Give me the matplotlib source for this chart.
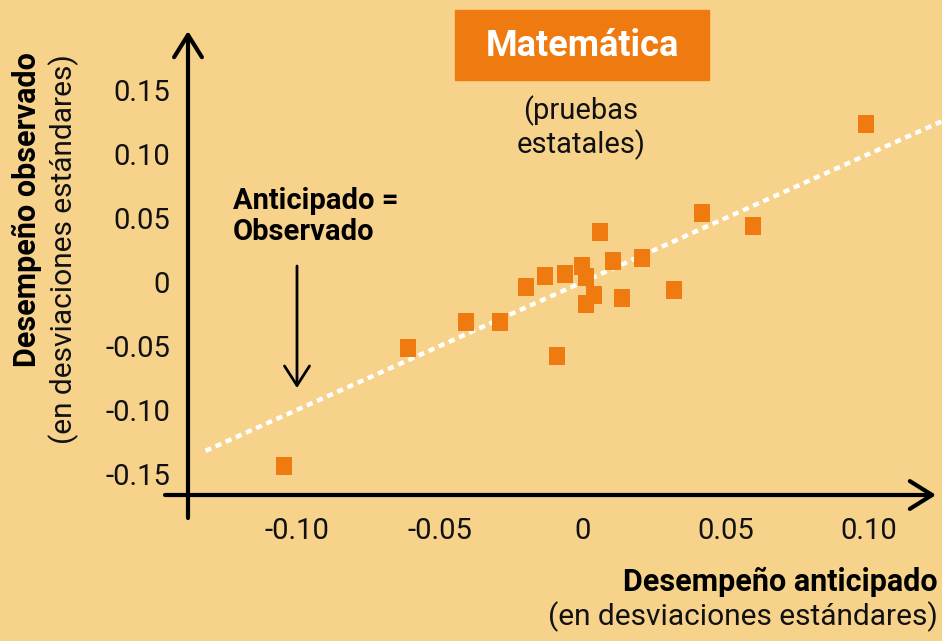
import matplotlib.pyplot as plt
from matplotlib.patches import Rectangle

# Data (standard deviations)
anticipado = [-0.1045, -0.0612, -0.0409, -0.0290, -0.0199, -0.0133, -0.0091,
              -0.0063, -0.0003, 0.0010, 0.0010, 0.0038, 0.0059, 0.0105,
              0.0136, 0.0206, 0.0318, 0.0416, 0.0594, 0.0990]
observado = [-0.1438, -0.0516, -0.0313, -0.0313, -0.0039, 0.0047, -0.0578,
             0.0063, 0.0125, 0.0039, -0.0172, -0.0102, 0.0391, 0.0164,
             -0.0125, 0.0188, -0.0063, 0.0539, 0.0438, 0.1234]

# anticipado = observado reference line
ref_x = [-0.132, 0.13]
ref_y = [-0.132, 0.13]

x_ticks = [-0.10, -0.05, 0, 0.05, 0.10]
x_tick_labels = ['-0.10', '-0.05', '0', '0.05', '0.10']
y_ticks = [0.15, 0.10, 0.05, 0, -0.05, -0.10, -0.15]
y_tick_labels = ['0.15', '0.10', '0.05', '0', '-0.05', '-0.10', '-0.15']

BG = '#F7D28B'
ORANGE = '#EE7A10'
W, H = 942, 641

plt.rcParams['font.family'] = ['Roboto', 'DejaVu Sans']

fig = plt.figure(figsize=(W / 100, H / 100), dpi=100, facecolor=BG)


def fx(x):
    return x / W


def fy(y):
    return 1 - y / H


# axes origin sits at pixel (188, 495)
ax = fig.add_axes([fx(188), fy(495), fx(W - 188), 495 / H])
ax.set_facecolor('none')
ax.set_xlim(-0.1381, 0.1255)
ax.set_ylim(-0.1665, 0.2202)
for s in ax.spines.values():
    s.set_visible(False)

ax.plot(ref_x, ref_y, color='white', lw=3.2, linestyle=(0, (1.4, 1.1)),
        clip_on=False, zorder=2)

rect_marker = [(-0.43, -0.5), (0.43, -0.5), (0.43, 0.5), (-0.43, 0.5), (-0.43, -0.5)]
ax.plot(anticipado, observado, linestyle='none', marker=rect_marker,
        markersize=12.6, color=ORANGE, markeredgewidth=0, zorder=3)

ax.set_xticks(x_ticks)
ax.set_xticklabels(x_tick_labels)
ax.set_yticks(y_ticks)
ax.set_yticklabels(y_tick_labels)
ax.tick_params(axis='both', length=0, labelsize=21, colors='#111111')
ax.tick_params(axis='x', pad=16)
ax.tick_params(axis='y', pad=13)

# hand-drawn style axes with open arrow heads
arrow = dict(arrowstyle='->,head_length=0.8,head_width=0.5', lw=3,
             color='black', shrinkA=0, shrinkB=0, mutation_scale=20)
ax.annotate('', xy=(188, H - 31), xytext=(188, H - 518),
            xycoords='figure pixels', textcoords='figure pixels', arrowprops=arrow)
ax.annotate('', xy=(936, H - 495), xytext=(165, H - 495),
            xycoords='figure pixels', textcoords='figure pixels', arrowprops=arrow)

# annotation arrow
ax.annotate('', xy=(297, H - 388), xytext=(297, H - 266),
            xycoords='figure pixels', textcoords='figure pixels',
            arrowprops=dict(arrowstyle='->,head_length=0.7,head_width=0.45', lw=2,
                            color='black', shrinkA=0, shrinkB=0, mutation_scale=20))
fig.text(fx(233), fy(187), 'Anticipado =\nObservado', fontsize=21,
         fontweight='bold', ha='left', va='top', linespacing=1.15)

# title box
fig.patches.append(Rectangle((fx(455), fy(80)), fx(254), 70 / H,
                             transform=fig.transFigure, color=ORANGE, zorder=0))
fig.text(fx(582), fy(46), 'Matemática', fontsize=26, fontweight='bold',
         color='white', ha='center', va='center')
fig.text(fx(581), fy(95), '(pruebas\nestatales)', fontsize=21, ha='center',
         va='top', linespacing=1.15, color='#111111')

# axis titles
fig.text(fx(938), fy(567), 'Desempeño anticipado', fontsize=22, fontweight='bold',
         ha='right', va='top')
fig.text(fx(938), fy(601), '(en desviaciones estándares)', fontsize=21.5,
         ha='right', va='top', color='#111111')
fig.text(fx(27), fy(52), 'Desempeño observado', fontsize=22, fontweight='bold',
         rotation=90, ha='center', va='top')
fig.text(fx(64), fy(54), '(en desviaciones estándares)', fontsize=21.5,
         rotation=90, ha='center', va='top', color='#111111')

fig.savefig('out.png', dpi=100, facecolor=BG)
